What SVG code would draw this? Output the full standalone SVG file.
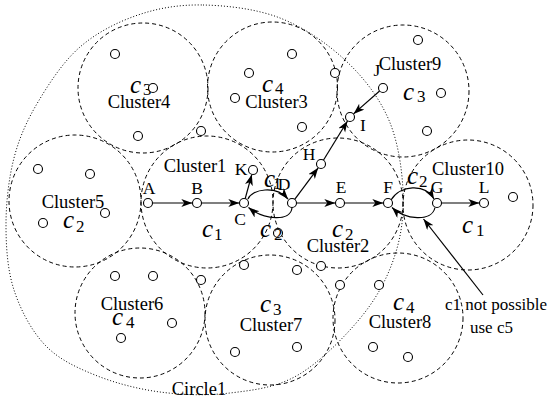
<svg xmlns="http://www.w3.org/2000/svg" width="549" height="403" viewBox="0 0 549 403">
  <defs>
    <marker id="ah" markerUnits="userSpaceOnUse" markerWidth="12" markerHeight="9" refX="11" refY="4" orient="auto">
      <path d="M0,0 L11,4 L0,8 L3,4 Z" fill="#000"/>
    </marker>
  </defs>
  <style>
    .cl { fill: none; stroke: #000; stroke-width: 1; stroke-dasharray: 4 3; }
    .outer { fill: none; stroke: #000; stroke-width: 1; stroke-dasharray: 1 2; }
    .nd { fill: #fff; stroke: #000; stroke-width: 1.1; }
    text { font-family: "Liberation Serif", "Times New Roman", serif; fill: #000; }
    .lbl { font-size: 18.5px; text-anchor: middle; }
    .pt { font-size: 17.5px; text-anchor: middle; }
    .ci { font-style: italic; font-size: 25px; }
    .sb { font-size: 17px; }
    .note { font-size: 17px; }
    .edge { fill: none; stroke: #000; stroke-width: 1.2; marker-end: url(#ah); }
  </style>
  <rect width="549" height="403" fill="#fff"/>

  <!-- outer boundary -->
  <g id="circle1">
    <path class="outer" d="M203,5 C226.7,5.5 256.3,8.8 280,18 C303.7,27.2 327,43.3 345,60 C363,76.7 378.3,96.3 388,118 C397.7,139.7 401.8,167.2 403,190 C404.2,212.8 401.8,234 395,255 C388.2,276 378.2,296 362,316 C345.8,336 320,362.2 298,375 C276,387.8 253,390.2 230,393 C207,395.8 182.5,395 160,392 C137.5,389 114.2,382.8 95,375 C75.8,367.2 58.5,359.2 45,345 C31.5,330.8 20.5,310 14,290 C7.5,270 6,247 6,225 C6,203 8.7,178.5 14,158 C19.3,137.5 27,120.5 38,102 C49,83.5 63.3,61.5 80,47 C96.7,32.5 117.5,22 138,15 C158.5,8 179.3,4.5 203,5 Z"/>
    <text class="lbl" x="199" y="395">Circle1</text>
  </g>

  <!-- clusters -->
  <g id="cluster4">
    <circle class="cl" cx="143" cy="88" r="65"/>
    <text class="lbl" x="139" y="108">Cluster4</text>
    <text class="ci" x="130" y="93">c</text><text class="sb" x="143" y="95">3</text>
  </g>
  <g id="cluster3">
    <circle class="cl" cx="272.5" cy="87" r="65"/>
    <text class="lbl" x="276.5" y="108">Cluster3</text>
    <text class="ci" x="262" y="92">c</text><text class="sb" x="275" y="94">4</text>
  </g>
  <g id="cluster9">
    <circle class="cl" cx="403" cy="91" r="66"/>
    <text class="lbl" x="410" y="70">Cluster9</text>
    <text class="ci" x="403" y="100">c</text><text class="sb" x="417" y="102">3</text>
  </g>
  <g id="cluster5">
    <circle class="cl" cx="75" cy="201" r="66"/>
    <text class="lbl" x="73" y="208">Cluster5</text>
    <text class="ci" x="63" y="228">c</text><text class="sb" x="76" y="232">2</text>
  </g>
  <g id="cluster1">
    <circle class="cl" cx="207" cy="202" r="66"/>
    <text class="lbl" x="195" y="172">Cluster1</text>
    <text class="ci" x="202" y="237">c</text><text class="sb" x="214" y="240">1</text>
  </g>
  <g id="cluster2">
    <circle class="cl" cx="338" cy="203" r="65"/>
    <text class="lbl" x="338" y="252">Cluster2</text>
    <text class="ci" x="332" y="237">c</text><text class="sb" x="345" y="240">2</text>
  </g>
  <g id="cluster10">
    <circle class="cl" cx="468" cy="205" r="65"/>
    <text class="lbl" x="468" y="175">Cluster10</text>
    <text class="ci" x="462" y="233">c</text><text class="sb" x="476" y="236">1</text>
  </g>
  <g id="cluster6">
    <circle class="cl" cx="140" cy="313" r="65"/>
    <text class="lbl" x="132" y="310">Cluster6</text>
    <text class="ci" x="112" y="325">c</text><text class="sb" x="126" y="328">4</text>
  </g>
  <g id="cluster7">
    <circle class="cl" cx="270" cy="320" r="65"/>
    <text class="lbl" x="271" y="331">Cluster7</text>
    <text class="ci" x="260" y="312">c</text><text class="sb" x="273" y="315">3</text>
  </g>
  <g id="cluster8">
    <circle class="cl" cx="398" cy="318" r="65"/>
    <text class="lbl" x="400" y="328">Cluster8</text>
    <text class="ci" x="393" y="310">c</text><text class="sb" x="406" y="313">4</text>
  </g>

  <!-- connectors -->
  <g id="connectors">
    <path class="edge" d="M152.5,203 L192.3,203"/>
    <path class="edge" d="M201.5,203 L239.3,203"/>
    <path class="edge" d="M296.5,203 L335.3,203"/>
    <path class="edge" d="M344.5,203 L383.3,203"/>
    <path class="edge" d="M441.5,203 L479.3,203"/>
    <path class="edge" d="M245.2,198.7 L251.8,174.5"/>
    <path class="edge" d="M294.7,199.4 L318.2,167.8"/>
    <path class="edge" d="M323.4,160.2 L347.5,121"/>
    <path class="edge" d="M379.6,91 L353.5,113.9"/>
    <path class="edge" d="M248,199 C252,189 276,185 288,199"/>
    <path class="edge" d="M292,207.5 C291,222 264,220 248.5,207.5"/>
    <path class="edge" d="M391,200 C400,185 425,183 434,199"/>
    <path class="edge" d="M435,207.5 C432,222 405,220 392,207.5"/>
    <path class="edge" d="M483,295 L423.5,219"/>
  </g>

  <!-- nodes -->
  <g id="nodes">
    <g id="n1"><circle class="nd" cx="115" cy="54" r="4.5"/></g>
    <g id="n2"><circle class="nd" cx="153" cy="88" r="4.5"/></g>
    <g id="n3"><circle class="nd" cx="235" cy="98" r="4.5"/></g>
    <g id="n4"><circle class="nd" cx="249" cy="73" r="4.5"/></g>
    <g id="n5"><circle class="nd" cx="138" cy="136" r="4.5"/></g>
    <g id="n6"><circle class="nd" cx="201" cy="131" r="4.5"/></g>
    <g id="n7"><circle class="nd" cx="38" cy="169" r="4.5"/></g>
    <g id="n8"><circle class="nd" cx="90" cy="174" r="4.5"/></g>
    <g id="n9"><circle class="nd" cx="418" cy="40" r="4.5"/></g>
    <g id="n10"><circle class="nd" cx="335" cy="73" r="4.5"/></g>
    <g id="n11"><circle class="nd" cx="292" cy="54" r="4.5"/></g>
    <g id="n13"><circle class="nd" cx="441" cy="93" r="4.5"/></g>
    <g id="n15"><circle class="nd" cx="302" cy="127" r="4.5"/></g>
    <g id="n16"><circle class="nd" cx="427" cy="131" r="4.5"/></g>
    <g id="n18"><circle class="nd" cx="513" cy="197" r="4.5"/></g>
    <g id="n27"><circle class="nd" cx="105" cy="213" r="4.5"/></g>
    <g id="n28"><circle class="nd" cx="43" cy="223" r="4.5"/></g>
    <g id="n29"><circle class="nd" cx="244" cy="265" r="4.5"/></g>
    <g id="n30"><circle class="nd" cx="115" cy="276" r="4.5"/></g>
    <g id="n31"><circle class="nd" cx="153" cy="276" r="4.5"/></g>
    <g id="n32"><circle class="nd" cx="201" cy="280" r="4.5"/></g>
    <g id="n33"><circle class="nd" cx="172" cy="323" r="4.5"/></g>
    <g id="n34"><circle class="nd" cx="121" cy="338" r="4.5"/></g>
    <g id="n35"><circle class="nd" cx="235" cy="352" r="4.5"/></g>
    <g id="n36"><circle class="nd" cx="278" cy="233" r="4.5"/></g>
    <g id="n37"><circle class="nd" cx="297" cy="270" r="4.5"/></g>
    <g id="n38"><circle class="nd" cx="321" cy="266" r="4.5"/></g>
    <g id="n39"><circle class="nd" cx="340" cy="285" r="4.5"/></g>
    <g id="n40"><circle class="nd" cx="379" cy="285" r="4.5"/></g>
    <g id="n41"><circle class="nd" cx="297" cy="347" r="4.5"/></g>
    <g id="n42"><circle class="nd" cx="373" cy="347" r="4.5"/></g>
    <g id="n43"><circle class="nd" cx="408" cy="357" r="4.5"/></g>

    <g id="node-A"><circle class="nd" cx="148" cy="203" r="4.5"/><text class="pt" x="149" y="194">A</text></g>
    <g id="node-B"><circle class="nd" cx="197" cy="203" r="4.5"/><text class="pt" x="197" y="194">B</text></g>
    <g id="node-C"><circle class="nd" cx="244" cy="203" r="4.5"/><text class="pt" x="240" y="225">C</text></g>
    <g id="node-D"><circle class="nd" cx="292" cy="203" r="4.5"/><text class="pt" x="284" y="190">D</text></g>
    <g id="node-E"><circle class="nd" cx="340" cy="203" r="4.5"/><text class="pt" x="341" y="193">E</text></g>
    <g id="node-F"><circle class="nd" cx="388" cy="203" r="4.5"/><text class="pt" x="388" y="193">F</text></g>
    <g id="node-G"><circle class="nd" cx="437" cy="203" r="4.5"/><text class="pt" x="437" y="193">G</text></g>
    <g id="node-L"><circle class="nd" cx="484" cy="203" r="4.5"/><text class="pt" x="484" y="193">L</text></g>
    <g id="node-K"><circle class="nd" cx="253" cy="170" r="4.5"/><text class="pt" x="241" y="175">K</text></g>
    <g id="node-H"><circle class="nd" cx="321" cy="164" r="4.5"/><text class="pt" x="309" y="160">H</text></g>
    <g id="node-I"><circle class="nd" cx="350" cy="117" r="4.5"/><text class="pt" x="363" y="131">I</text></g>
    <g id="node-J"><circle class="nd" cx="383" cy="88" r="4.5"/><text class="pt" x="377" y="76">J</text></g>
  </g>

  <!-- priority labels on the edges -->
  <g id="edge-labels">
    <text class="ci" x="264" y="187">c</text><text class="sb" x="273" y="189">1</text>
    <text class="ci" x="260" y="237">c</text><text class="sb" x="274" y="240">2</text>
    <text class="ci" x="407" y="184">c</text><text class="sb" x="419" y="187">2</text>
  </g>

  <g id="note">
    <text class="note" x="445" y="310">c1 not possible</text>
    <text class="note" x="470" y="333">use c5</text>
  </g>
</svg>
